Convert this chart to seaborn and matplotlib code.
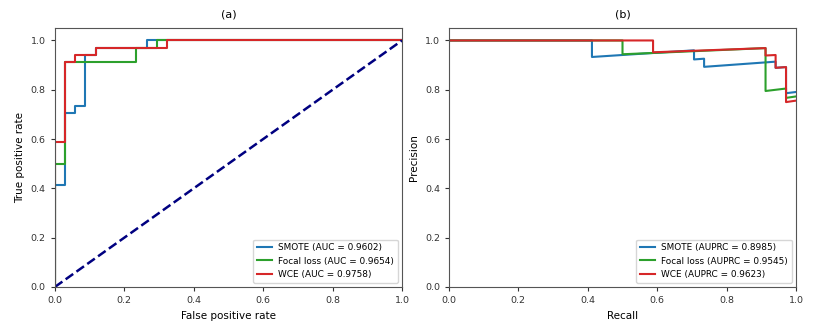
import matplotlib
matplotlib.use('Agg')
import matplotlib.pyplot as plt
import seaborn as sns
import numpy as np

#%% ROC curves
smote_fpr = [0.0, 0.0, 0.029, 0.029, 0.059, 0.059, 0.088, 0.088, 0.118, 0.118, 0.265, 0.265, 1.0]
smote_tpr = [0.0, 0.412, 0.412, 0.706, 0.706, 0.735, 0.735, 0.941, 0.941, 0.971, 0.971, 1.0, 1.0]

focal_fpr = [0.0, 0.0, 0.029, 0.029, 0.235, 0.235, 0.294, 0.294, 1.0]
focal_tpr = [0.0, 0.5, 0.5, 0.912, 0.912, 0.971, 0.971, 1.0, 1.0]

wce_fpr = [0.0, 0.0, 0.029, 0.029, 0.059, 0.059, 0.118, 0.118, 0.324, 0.324, 1.0]
wce_tpr = [0.0, 0.588, 0.588, 0.912, 0.912, 0.941, 0.941, 0.971, 0.971, 1.0, 1.0]

#%% PR curves
smote_rec = [0.0, 0.412, 0.412, 0.706, 0.706, 0.735, 0.735, 0.941, 0.941, 0.971, 0.971, 1.0]
smote_prec = [1.0, 1.0, 0.933, 0.96, 0.923, 0.926, 0.893, 0.914, 0.889, 0.892, 0.786, 0.791]

focal_rec = [0.0, 0.5, 0.5, 0.912, 0.912, 0.971, 0.971, 1.0]
focal_prec = [1.0, 1.0, 0.944, 0.969, 0.795, 0.805, 0.767, 0.773]

wce_rec = [0.0, 0.588, 0.588, 0.912, 0.912, 0.941, 0.941, 0.971, 0.971, 1.0]
wce_prec = [1.0, 1.0, 0.952, 0.969, 0.939, 0.941, 0.889, 0.892, 0.75, 0.756]

names = ['SMOTE', 'Focal loss', 'WCE']
auc = [0.9602, 0.9654, 0.9758]
auprc = [0.8985, 0.9545, 0.9623]
colores = ['tab:blue', 'tab:green', 'tab:red']

#%%
plt.rcParams['font.family'] = ['DejaVu Sans']
f, s = plt.subplots(1, 2, figsize=(8.31, 3.31), dpi=100)
plt.subplots_adjust(left=0.066, right=0.958, bottom=0.133, top=0.915, wspace=0.135)

roc = [(smote_fpr, smote_tpr), (focal_fpr, focal_tpr), (wce_fpr, wce_tpr)]
for (x, y), n, a, c in zip(roc, names, auc, colores):
    sns.lineplot(x=x, y=y, sort=False, estimator=None, color=c, lw=1.5,
                 label=f'{n} (AUC = {a:.4f})', ax=s[0])
s[0].plot([0, 1], [0, 1], color='navy', lw=1.8, ls='--')
s[0].set(xlim=(0, 1), ylim=(0, 1.05))
s[0].set_xlabel('False positive rate', fontsize=7.5)
s[0].set_ylabel('True positive rate', fontsize=7.5)
s[0].set_title('(a)', fontsize=8, pad=8)
s[0].legend(loc='lower right', fontsize=6.4, handlelength=1.7, handletextpad=0.7)

pr = [(smote_rec, smote_prec), (focal_rec, focal_prec), (wce_rec, wce_prec)]
for (x, y), n, a, c in zip(pr, names, auprc, colores):
    sns.lineplot(x=x, y=y, sort=False, estimator=None, color=c, lw=1.5,
                 label=f'{n} (AUPRC = {a:.4f})', ax=s[1])
s[1].set(xlim=(0, 1), ylim=(0, 1.05))
s[1].set_xlabel('Recall', fontsize=7.5)
s[1].set_ylabel('Precision', fontsize=7.5)
s[1].set_title('(b)', fontsize=8, pad=8)
s[1].legend(loc='lower right', fontsize=6.4, handlelength=1.7, handletextpad=0.7)

for ax in s:
    ax.tick_params(labelsize=6.8, length=3, width=0.8, colors='#333333')
    for sp in ax.spines.values():
        sp.set_color('#555555')

plt.savefig('out.png', dpi=100)
